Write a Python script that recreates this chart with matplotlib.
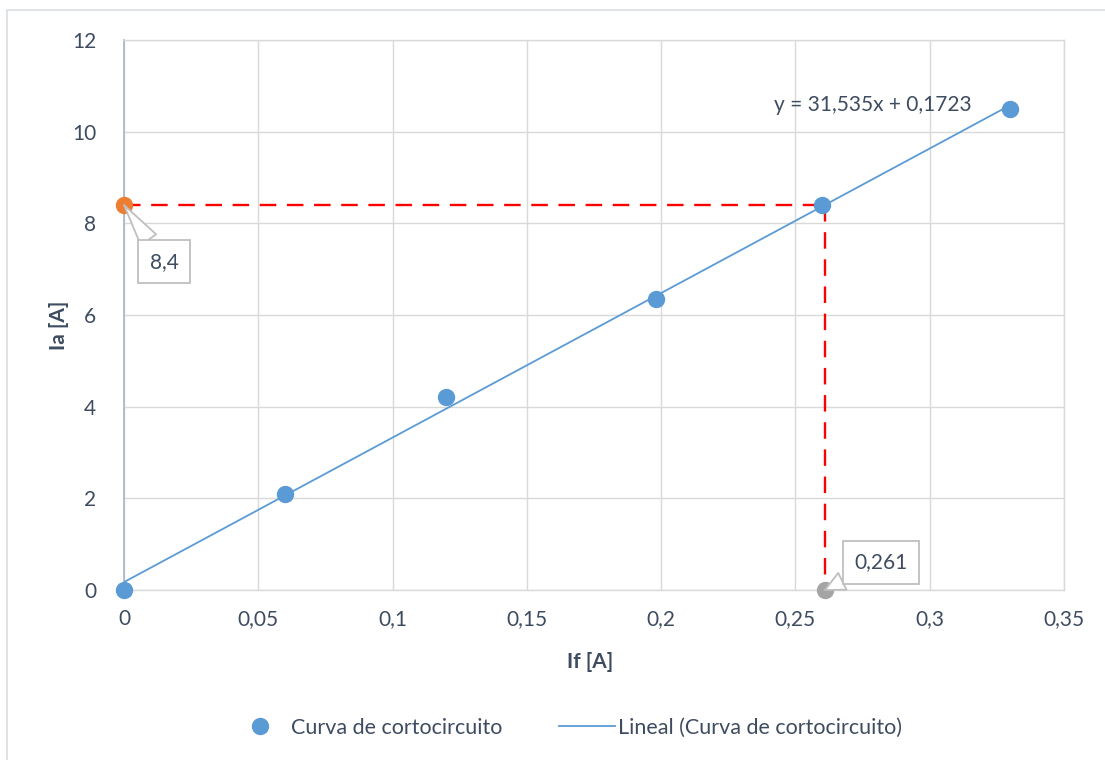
import matplotlib
matplotlib.use("Agg")
import matplotlib.pyplot as plt
from matplotlib.patches import Rectangle
import numpy as np

plt.rcParams['font.family'] = ['Lato', 'DejaVu Sans']

# Short-circuit test data
i_f = [0.0, 0.06, 0.12, 0.198, 0.26, 0.33]
i_a = [0.0, 2.1, 4.22, 6.35, 8.4, 10.5]

# Linear fit coefficients
slope = 31.535
intercept = 0.1723

# Operating point read from the fit
ia_op = 8.4
if_op = 0.261

x_ticks = [0, 0.05, 0.1, 0.15, 0.2, 0.25, 0.3, 0.35]
x_tick_labels = ['0', '0,05', '0,1', '0,15', '0,2', '0,25', '0,3', '0,35']
y_ticks = [0, 2, 4, 6, 8, 10, 12]

text_col = '#3E4C61'
blue = '#5B9BD5'
orange = '#ED7D31'
gray = '#A5A5A5'
grid_col = '#D9D9D9'
fs = 15

fig = plt.figure(figsize=(11.05, 7.6), dpi=100)
ax = fig.add_axes([124 / 1105, 170 / 760, 940 / 1105, 550 / 760])

# chart frame
fig.patches.append(Rectangle((7 / 1105, -0.05), 1.2, (760 - 10) / 760 + 0.05,
                             transform=fig.transFigure, fill=False,
                             ec='#D9DDE3', lw=1.2, zorder=0))

ax.set_xlim(0, 0.35)
ax.set_ylim(0, 12)
ax.set_xticks(x_ticks)
ax.set_xticklabels(x_tick_labels)
ax.set_yticks(y_ticks)
ax.grid(True, color=grid_col, lw=1.0)
ax.set_axisbelow(True)
for side in ['top', 'right', 'bottom']:
    ax.spines[side].set_color(grid_col)
    ax.spines[side].set_linewidth(1.0)
ax.spines['left'].set_color('#ADB9CA')
ax.spines['left'].set_linewidth(1.3)
ax.tick_params(axis='x', length=0, labelsize=fs, colors=text_col, pad=14)
ax.tick_params(axis='y', length=0, labelsize=fs, colors=text_col, pad=20)

ax.set_xlabel('If [A]', fontsize=fs, fontweight='bold', color=text_col)
ax.set_ylabel('Ia [A]', fontsize=fs, fontweight='bold', color=text_col)
ax.xaxis.set_label_coords(0.496, -0.1125)
ax.yaxis.set_label_coords(-0.0585, 0.482)

# trendline
xf = np.array([min(i_f), max(i_f)])
ax.plot(xf, slope * xf + intercept, color=blue, lw=1.3, zorder=3,
        label='Lineal (Curva de cortocircuito)')

# reference dashed lines
ax.plot([0, if_op], [ia_op, ia_op], color='#FF0000', lw=1.7,
        dashes=(7, 4.5), zorder=4, clip_on=False)
ax.plot([if_op, if_op], [ia_op, 0], color='#FF0000', lw=1.7,
        dashes=(7, 4.5), zorder=4, clip_on=False)

# measured points
ax.plot(i_f, i_a, 'o', color=blue, ms=11.5, zorder=5, clip_on=False,
        label='Curva de cortocircuito')
ax.plot([0], [ia_op], 'o', color=orange, ms=11.5, zorder=6, clip_on=False)
ax.plot([if_op], [0], 'o', color=gray, ms=11.5, zorder=6, clip_on=False)

# callouts
box = dict(boxstyle='square,pad=0.55', fc='white', ec='#BFBFBF', lw=1.3)
arrow = dict(arrowstyle='wedge,tail_width=0.9,shrink_factor=0.5', fc='white',
             ec='#BFBFBF', lw=1.3, shrinkA=0, shrinkB=0)
ax.annotate(f'{ia_op:g}'.replace('.', ','), xy=(0, ia_op), xytext=(0.0149, 7.16),
            ha='center', va='center', fontsize=fs, color=text_col,
            bbox=box, arrowprops=arrow, zorder=7, annotation_clip=False)
ax.annotate(f'{if_op:g}'.replace('.', ','), xy=(if_op, 0), xytext=(0.2819, 0.61),
            ha='center', va='center', fontsize=fs, color=text_col,
            bbox=box, arrowprops=arrow, zorder=7, annotation_clip=False)

# fit equation
eq = f'y = {slope:g}x + {intercept:g}'.replace('.', ',')
ax.text(0.2789, 10.58, eq, ha='center', va='center', fontsize=fs,
        color=text_col, zorder=7)

handles, labels = ax.get_legend_handles_labels()
leg = fig.legend(handles[::-1], labels[::-1], loc='center',
                 bbox_to_anchor=(567 / 1105, 1 - 728 / 760), ncol=2,
                 frameon=False, fontsize=15.5, handlelength=2.6,
                 columnspacing=2.6, handletextpad=0.15)
for t in leg.get_texts():
    t.set_color(text_col)

fig.savefig('out.png', dpi=100, facecolor='white')
